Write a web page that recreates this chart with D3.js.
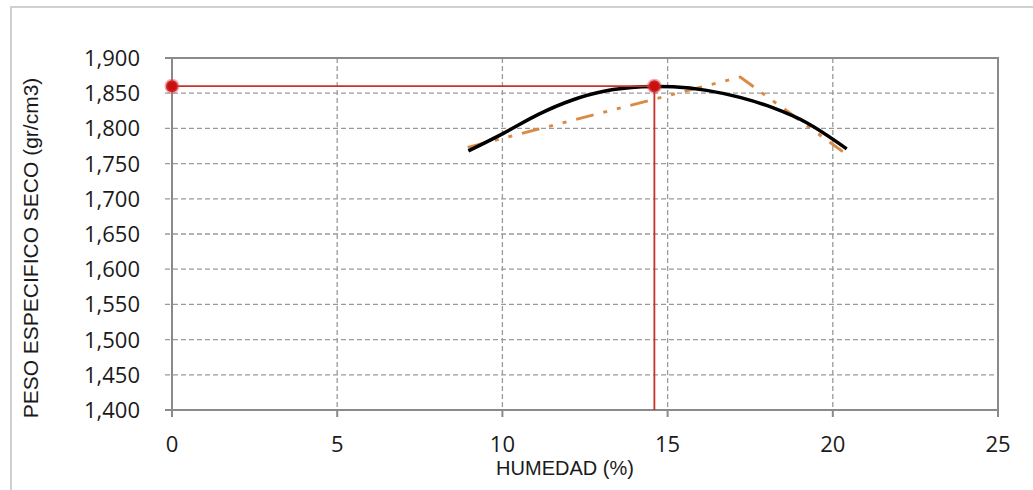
<!DOCTYPE html>
<html>
<head>
<meta charset="utf-8">
<script src="https://cdn.jsdelivr.net/npm/d3@7"></script>
<style>
  body { margin: 0; background: #fff; }
  svg { display: block; }
</style>
</head>
<body>
<div id="chart"></div>
<script>
// ticks
var xTicks = [0, 5, 10, 15, 20, 25];
var yTicks = [1400, 1450, 1500, 1550, 1600, 1650, 1700, 1750, 1800, 1850, 1900];

// fitted compaction curve
var curveX = [8.97, 10.03, 11.09, 12.10, 13.11, 14.22, 15.17, 16.18, 17.19, 18.20, 19.21, 20.42];
var curveY = [1768, 1793, 1820, 1840, 1853, 1859, 1859, 1854, 1844, 1829, 1808, 1771];

// test points, dash-dot line
var testX = [8.95, 17.2, 20.3];
var testY = [1773, 1873, 1767];

// optimum
var optHum = 14.6;
var maxDens = 1860;

var W = 1033, H = 490;
var svg = d3.select("#chart").append("svg")
    .attr("width", W)
    .attr("height", H);

// outer border
svg.append("rect")
  .attr("x", 11).attr("y", 7)
  .attr("width", W + 20).attr("height", H + 20)
  .attr("fill", "none")
  .attr("stroke", "#d0d0d0")
  .attr("stroke-width", 2);

var x = d3.scaleLinear().domain([0, 25]).range([172, 998]);
var y = d3.scaleLinear().domain([1400, 1900]).range([410, 58]);

// horizontal grid (extends left as tick)
svg.selectAll("hgrid")
  .data(yTicks.filter(function(d){ return d > 1400 && d < 1900; }))
  .enter().append("line")
    .attr("x1", x(0) - 7).attr("x2", x(25))
    .attr("y1", function(d){ return y(d); })
    .attr("y2", function(d){ return y(d); })
    .attr("stroke", "#9a9a9a")
    .attr("stroke-width", 1.3)
    .attr("stroke-dasharray", "5,3");

// vertical grid
svg.selectAll("vgrid")
  .data(xTicks.filter(function(d){ return d > 0 && d < 25; }))
  .enter().append("line")
    .attr("x1", function(d){ return x(d); })
    .attr("x2", function(d){ return x(d); })
    .attr("y1", y(1900)).attr("y2", y(1400))
    .attr("stroke", "#9a9a9a")
    .attr("stroke-width", 1.3)
    .attr("stroke-dasharray", "5,3");

// frame
svg.append("rect")
  .attr("x", x(0)).attr("y", y(1900))
  .attr("width", x(25) - x(0)).attr("height", y(1400) - y(1900))
  .attr("fill", "none")
  .attr("stroke", "#8a8a8a")
  .attr("stroke-width", 2);

// axis ticks
svg.selectAll("ytick")
  .data([1400, 1900])
  .enter().append("line")
    .attr("x1", x(0) - 7).attr("x2", x(0))
    .attr("y1", function(d){ return y(d); })
    .attr("y2", function(d){ return y(d); })
    .attr("stroke", "#8a8a8a").attr("stroke-width", 2);

svg.selectAll("xtick")
  .data(xTicks)
  .enter().append("line")
    .attr("x1", function(d){ return x(d); })
    .attr("x2", function(d){ return x(d); })
    .attr("y1", y(1400)).attr("y2", y(1400) + 7)
    .attr("stroke", "#8a8a8a").attr("stroke-width", 2);

// tick labels
var fmt = d3.format(",");
svg.selectAll("ylab")
  .data(yTicks)
  .enter().append("text")
    .attr("x", 140)
    .attr("y", function(d){ return y(d) + 8; })
    .attr("text-anchor", "end")
    .style("font-family", "'Open Sans', Lato, sans-serif")
    .style("font-size", "22px")
    .attr("fill", "#1a1a1a")
    .text(function(d){ return fmt(d); });

svg.selectAll("xlab")
  .data(xTicks)
  .enter().append("text")
    .attr("x", function(d){ return x(d); })
    .attr("y", 452)
    .attr("text-anchor", "middle")
    .style("font-family", "'Open Sans', Lato, sans-serif")
    .style("font-size", "22px")
    .attr("fill", "#1a1a1a")
    .text(function(d){ return d; });

// axis titles
svg.append("text")
  .attr("x", 565).attr("y", 475)
  .attr("text-anchor", "middle")
  .style("font-family", "'Liberation Sans', Arial, sans-serif")
  .style("font-size", "20px")
  .attr("fill", "#1a1a1a")
  .text("HUMEDAD (%)");

svg.append("text")
  .attr("transform", "translate(38,248)rotate(-90)")
  .attr("text-anchor", "middle")
  .style("font-family", "'Liberation Sans', Arial, sans-serif")
  .style("font-size", "21px")
  .attr("fill", "#1a1a1a")
  .text("PESO ESPECIFICO SECO (gr/cm3)");

// dash-dot test line
var line = d3.line()
  .x(function(d){ return x(d[0]); })
  .y(function(d){ return y(d[1]); });

svg.append("path")
  .datum(d3.zip(testX, testY))
  .attr("d", line)
  .attr("fill", "none")
  .attr("stroke", "#d98a44")
  .attr("stroke-width", 3)
  .attr("stroke-dasharray", "18,10,4,10,4,10");

// fitted curve
svg.append("path")
  .datum(d3.zip(curveX, curveY))
  .attr("d", line.curve(d3.curveCatmullRom))
  .attr("fill", "none")
  .attr("stroke", "#000")
  .attr("stroke-width", 3.5);

// optimum guides
svg.append("line")
  .attr("x1", x(0)).attr("x2", x(optHum))
  .attr("y1", y(maxDens)).attr("y2", y(maxDens))
  .attr("stroke", "#c8302c").attr("stroke-width", 1.8);
svg.append("line")
  .attr("x1", x(optHum)).attr("x2", x(optHum))
  .attr("y1", y(maxDens)).attr("y2", y(1400))
  .attr("stroke", "#c8302c").attr("stroke-width", 1.8);

svg.selectAll("dots")
  .data([[0, maxDens], [optHum, maxDens]])
  .enter().append("circle")
    .attr("cx", function(d){ return x(d[0]); })
    .attr("cy", function(d){ return y(d[1]); })
    .attr("r", 6)
    .attr("fill", "#c81010")
    .attr("stroke", "rgba(220,70,70,0.45)")
    .attr("stroke-width", 3);
</script>
</body>
</html>
